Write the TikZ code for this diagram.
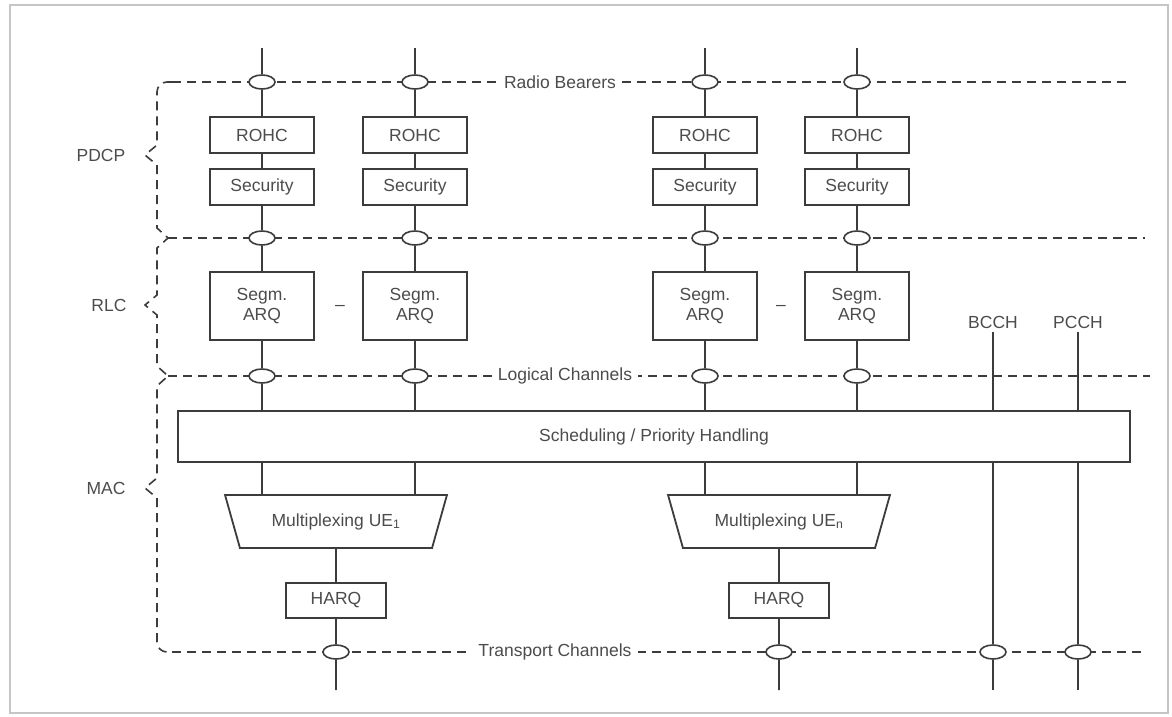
\documentclass[tikz,border=0pt]{standalone}
\usepackage{fontspec}
\setmainfont{Liberation Sans}
\usetikzlibrary{shapes.geometric}
\definecolor{ink}{HTML}{3C3C3C}
\definecolor{txt}{HTML}{4C4C4C}

\begin{document}
\begin{tikzpicture}[x=1pt, y=-1pt, ink,
    every node/.style={font=\fontsize{17.5}{19}\selectfont, text=txt},
    blk/.style={draw=ink, line width=2pt, fill=white, minimum width=104pt, minimum height=36pt, inner sep=0pt},
    arqbox/.style={blk, minimum height=68pt, align=center, font=\fontsize{17.5}{20}\selectfont},
    port/.style={ellipse, draw=ink, line width=1.6pt, fill=white, minimum width=26pt, minimum height=14pt, inner sep=0pt},
    muxbox/.style={trapezium, trapezium stretches, trapezium angle=58.5, shape border rotate=180, draw=ink, line width=1.8pt, fill=white, minimum width=222pt, minimum height=53pt, inner sep=0pt},
    chan/.style={line width=1.6pt, dash pattern=on 9pt off 6pt},
    wire/.style={line width=1.9pt},
    chlabel/.style={fill=white, inner sep=6pt}]
    \useasboundingbox (0,0) rectangle (1172,716);
    \draw[gray!45, line width=1.5pt] (10,5) rectangle (1168,713);

    % --- Channel levels ---
    \draw[chan] (172,82) -- (1130,82);
    \draw[chan] (168,238) -- (1145,238);
    \draw[chan] (168,376) -- (1150,376);
    \draw[chan] (172,652) -- (1145,652);
    \node[chlabel] (rblabel) at (560,82) {Radio Bearers};
    \node[chlabel] (lglabel) at (565,376) {Logical Channels};
    \node[chlabel] (trlabel) at (555,652) {Transport Channels};

    % --- Layer braces ---
    \draw[chan] (172,82) -- (167,82) arc (270:180:10) -- (157,145) -- (145,155) -- (157,165)
        -- (157,228) -- (168,238) -- (157,248) -- (157,295) -- (145,305) -- (157,315)
        -- (157,366) -- (168,376) -- (157,386) -- (157,478) -- (145,488) -- (157,498)
        -- (157,642) arc (180:90:10) -- (172,652);
    \node (pdcp) at (101,155) {PDCP};
    \node (rlc) at (109,305) {RLC};
    \node (mac) at (106,488) {MAC};

    % --- PDCP / RLC per radio bearer ---
    \foreach \c/\x in {1/262, 2/415, 3/705, 4/857} {
        \coordinate (top\c) at (\x,48);
        \node[port] (rb\c) at (\x,82) {};
        \node[blk] (rohc\c) at (\x,135) {ROHC};
        \node[blk] (sec\c) at (\x,187) {Security};
        \node[port] (pd\c) at (\x,238) {};
        \node[arqbox] (arq\c) at (\x,306) {Segm.\\ARQ};
        \node[port] (lg\c) at (\x,376) {};
    }
    \node (dash12) at (340,308) {--};
    \node (dash34) at (781,308) {--};

    % --- MAC ---
    \node[blk, minimum width=952pt, minimum height=51pt] (sched) at (654,436.5) {Scheduling / Priority Handling};
    \node[muxbox] (mux1) at (336,521.5) {Multiplexing UE\textsubscript{1}};
    \node[muxbox] (muxn) at (779,521.5) {Multiplexing UE\textsubscript{n}};
    \node[blk, minimum width=100pt, minimum height=35pt] (harq1) at (336,600.5) {HARQ};
    \node[blk, minimum width=100pt, minimum height=35pt] (harqn) at (779,600.5) {HARQ};
    \node[port] (tr1) at (336,652) {};
    \node[port] (trn) at (779,652) {};
    \coordinate (bot1) at (336,690);
    \coordinate (botn) at (779,690);

    % --- Broadcast and paging ---
    \node (bcch) at (993,322) {BCCH};
    \node (pcch) at (1078,322) {PCCH};
    \node[port] (trb) at (993,652) {};
    \node[port] (trp) at (1078,652) {};
    \coordinate (botb) at (993,690);
    \coordinate (botp) at (1078,690);

    % --- Wires ---
    \foreach \c in {1,...,4} {
        \draw[wire] (top\c) -- (rb\c) -- (rohc\c) -- (sec\c) -- (pd\c) -- (arq\c) -- (lg\c) -- (sched.north -| lg\c);
    }
    \foreach \c/\m in {1/mux1, 2/mux1, 3/muxn, 4/muxn} {
        \draw[wire] (sched.south -| lg\c) -- (\m.north -| lg\c);
    }
    \draw[wire] (mux1) -- (harq1) -- (tr1) -- (bot1);
    \draw[wire] (muxn) -- (harqn) -- (trn) -- (botn);
    \draw[wire] (bcch) -- (sched.north -| bcch);
    \draw[wire] (sched.south -| bcch) -- (trb) -- (botb);
    \draw[wire] (pcch) -- (sched.north -| pcch);
    \draw[wire] (sched.south -| pcch) -- (trp) -- (botp);
\end{tikzpicture}
\end{document}
